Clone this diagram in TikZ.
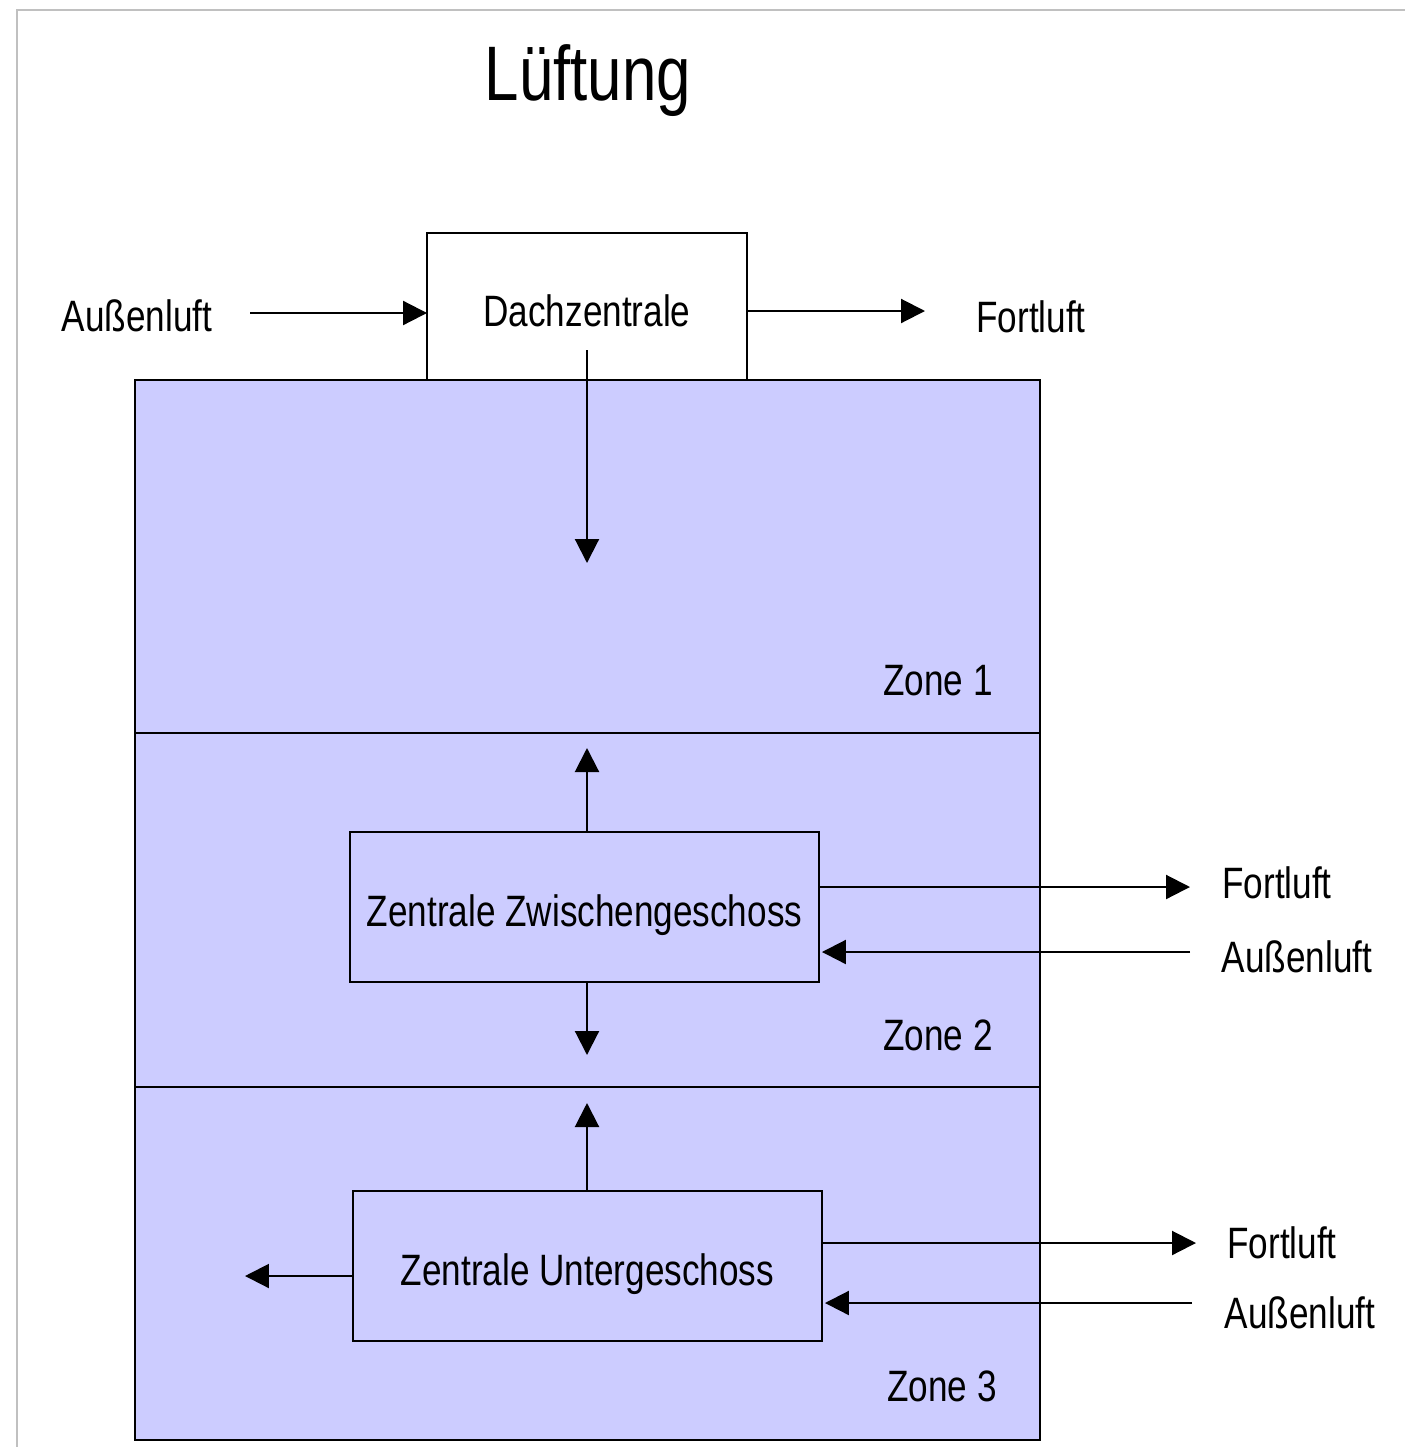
\documentclass[tikz,border=0pt]{standalone}
\usepackage{fontspec}
\setmainfont{Liberation Sans}[FakeStretch=0.8]
\usetikzlibrary{arrows.meta}
\definecolor{zonefill}{HTML}{CCCCFF}
\definecolor{framegray}{HTML}{C0C0C0}
\begin{document}
\begin{tikzpicture}[x=0.02cm,y=-0.02cm,
    zonebox/.style={draw,line width=1.2pt,fill=zonefill,inner sep=0pt,outer sep=0pt,minimum width=18.1cm},
    unitbox/.style={draw,line width=1.2pt,inner sep=0pt,outer sep=0pt,text height=0.98cm,text depth=0.2cm,font=\fontsize{25}{30}\selectfont},
    lbl/.style={font=\fontsize{25}{30}\selectfont,inner sep=0pt},
    arr/.style={line width=1.2pt,-{Triangle[length=0.48cm,width=0.48cm]}}]
\useasboundingbox (0,0) rectangle (1405,1447);

% frame
\draw[framegray,line width=1.7pt] (17,1447) -- (17,10) -- (1405,10);

\node (title) at (588,81) [font=\fontsize{44}{50}\selectfont] {Lüftung};

% zones
\node (zone1) at (587.5,556.5) [zonebox,minimum height=7.06cm] {};
\node (zone2) at (587.5,910) [zonebox,minimum height=7.08cm] {};
\node (zone3) at (587.5,1263.5) [zonebox,minimum height=7.06cm] {};
\node (zl1) at (938,681) [lbl] {Zone 1};
\node (zl2) at (938,1035) [lbl] {Zone 2};
\node (zl3) at (942,1386) [lbl] {Zone 3};

% units
\node (dach) at (587,306.5) [unitbox,fill=white,minimum width=6.4cm,minimum height=2.94cm] {Dachzentrale};
\node (zw) at (584.5,907) [unitbox,minimum width=9.38cm,minimum height=3cm] {Zentrale Zwischengeschoss};
\node (ug) at (587.5,1266) [unitbox,minimum width=9.38cm,minimum height=3cm] {Zentrale Untergeschoss};

% outside labels
\node (aussen0) at (137,316) [lbl] {Außenluft};
\node (fort0) at (1031,317) [lbl] {Fortluft};
\node (fort1) at (1277,883) [lbl] {Fortluft};
\node (aussen1) at (1297,957) [lbl] {Außenluft};
\node (fort2) at (1282,1243) [lbl] {Fortluft};
\node (aussen2) at (1300,1313) [lbl] {Außenluft};

% free ends
\coordinate (a0) at (250,313);
\coordinate (f0) at (925,311);
\coordinate (dtop) at (587,350);
\coordinate (dbot) at (587,563);
\coordinate (zwup) at (587,748);
\coordinate (zwdn) at (587,1055);
\coordinate (f1) at (1190,887);
\coordinate (a1) at (1190,952);
\coordinate (ugup) at (587,1103);
\coordinate (ugl) at (245,1276);
\coordinate (f2) at (1196,1243);
\coordinate (a2) at (1192,1303);

\draw[arr] (a0) -- (dach.west |- a0);
\draw[arr] (dach.east |- f0) -- (f0);
\draw[arr] (dtop) -- (dbot);

\draw[arr] (zw.north -| zwup) -- (zwup);
\draw[arr] (zw.south -| zwdn) -- (zwdn);
\draw[arr] (zw.east |- f1) -- (f1);
\draw[arr] (a1) -- ([xshift=0.06cm]zw.east |- a1);

\draw[arr] (ug.north -| ugup) -- (ugup);
\draw[arr] (ug.west |- ugl) -- (ugl);
\draw[arr] (ug.east |- f2) -- (f2);
\draw[arr] (a2) -- ([xshift=0.06cm]ug.east |- a2);
\end{tikzpicture}
\end{document}
